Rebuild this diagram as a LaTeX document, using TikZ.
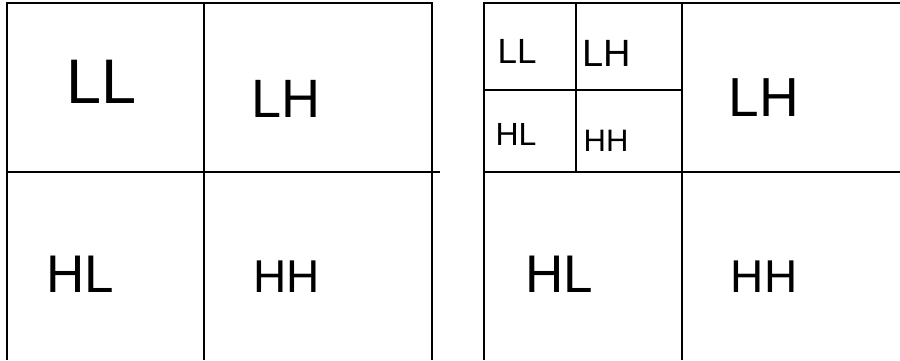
\documentclass[tikz,border=0pt]{standalone}
\usepackage{fontspec}
\setmainfont{Liberation Sans}
\usetikzlibrary{positioning}
\tikzset{
  rule/.style={draw=black, line width=1.2bp},
  band/.style={inner sep=0pt, anchor=center},
}
\newcommand{\bandsize}[1]{\fontsize{#1bp}{#1bp}\selectfont}

\begin{document}
\begin{tikzpicture}[x=1bp, y=-1bp]
    \useasboundingbox (0,0) rectangle (900,360);
    % one level
    \draw[rule] (7,360) -- (7,3) -- (432,3) -- (432,360);
    \draw[rule] (204,3) -- (204,360);
    \draw[rule] (7,172) -- (440,172);
    % two levels
    \draw[rule] (484,360) -- (484,3) -- (900,3);
    \draw[rule] (682,3) -- (682,360);
    \draw[rule] (484,172) -- (900,172);
    \draw[rule] (576,3) -- (576,172);
    \draw[rule] (484,90) -- (682,90);
    % sub-band labels
    \foreach \n/\x/\y/\s/\t in {aLL/102/82/63/LL, aLH/286/99/54/LH,
                                aHL/80/274/53/HL, aHH/287/277/46/HH,
                                bLL/517/51/35/LL, bLH/607/53/38/LH,
                                bHL/516/134/32/HL, bHH/606/141/31/HH,
                                cLH/764/98/55/LH, cHL/559/274/53/HL,
                                cHH/764/277/46/HH}
      { \node[band, font=\bandsize{\s}] (\n) at (\x,\y) {\t}; }
  \end{tikzpicture}
\end{document}
